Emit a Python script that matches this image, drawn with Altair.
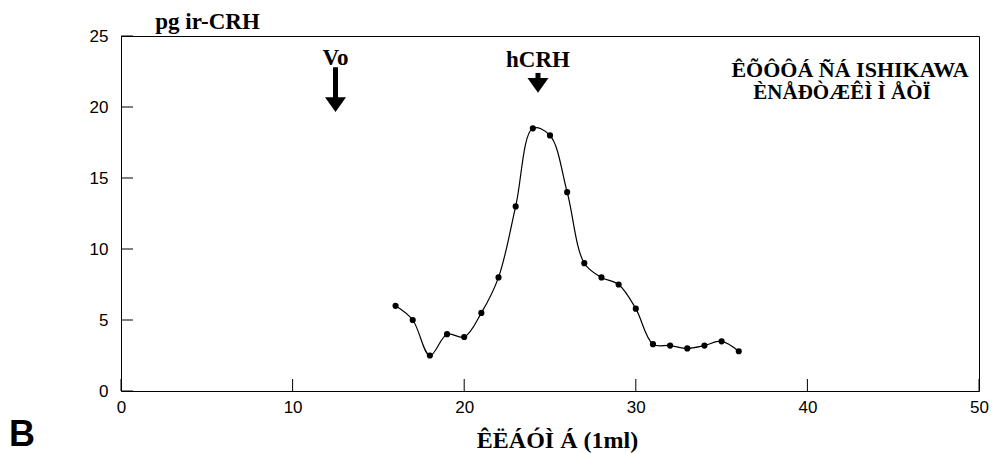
import altair as alt
import pandas as pd

# ---- data ----
fraction = [16, 17, 18, 19, 20, 21, 22, 23, 24, 25, 26, 27, 28, 29, 30, 31, 32, 33, 34, 35, 36]
ir_crh = [6.0, 5.0, 2.5, 4.0, 3.8, 5.5, 8.0, 13.0, 18.5, 18.0, 14.0, 9.0, 8.0, 7.5, 5.8, 3.3, 3.2, 3.0, 3.2, 3.5, 2.8]

marker_labels = ["Vo", "hCRH"]
marker_x = [12.5, 24.3]
marker_top = [22.8, 22.4]
marker_tip = [19.65, 21.0]
marker_label_y = [22.95, 22.85]

x_ticks = [0, 10, 20, 30, 40, 50]
y_ticks = [0, 5, 10, 15, 20, 25]

x_title = "ÊËÁÓÌ  Á  (1ml)"
y_title = "pg ir-CRH"
panel_label = ["B"]
note_line1 = ["ÊÕÔÔÁ ÑÁ ISHIKAWA"]
note_line2 = ["ÈNÅÐÒÆÊÌ  Ì  ÅÒÏ"]

W, H = 858, 355
SERIF = "Liberation Serif"
SANS = "Liberation Sans"

xs = alt.Scale(domain=[0, 50], nice=False, zero=False)
ys = alt.Scale(domain=[0, 25], nice=False, zero=False)

df = pd.DataFrame({"fraction": fraction, "crh": ir_crh})

x_axis = alt.Axis(
    values=x_ticks, ticks=False, domain=False, grid=False, labelFlush=False,
    labelFont=SANS, labelFontSize=17, labelColor="black", labelPadding=8,
    title=x_title, titleFont=SERIF, titleFontSize=24, titleFontWeight="bold",
    titleColor="black", titleX=436, titleY=56, titleBaseline="alphabetic",
    titleAlign="center",
)
y_axis = alt.Axis(
    values=y_ticks, ticks=False, domain=False, grid=False, labelFlush=False,
    labelFont=SANS, labelFontSize=17, labelColor="black", labelPadding=13,
    title=y_title, titleAngle=0, titleFont=SERIF, titleFontSize=23,
    titleFontWeight="bold", titleColor="black", titleX=86, titleY=-8,
    titleBaseline="alphabetic", titleAlign="center",
)


def X(field):
    return alt.X(field, scale=xs, axis=x_axis)


def Y(field):
    return alt.Y(field, scale=ys, axis=y_axis)


line = alt.Chart(df).mark_line(
    color="black", strokeWidth=1.2, interpolate="catmull-rom"
).encode(x=X("fraction:Q"), y=Y("crh:Q"))

points = alt.Chart(df).mark_point(
    filled=True, color="black", opacity=1, size=38, shape="circle"
).encode(x=X("fraction:Q"), y=Y("crh:Q"))

ytick_df = pd.DataFrame({"v": y_ticks})
xtick_df = pd.DataFrame({"v": x_ticks})

yticks = alt.Chart(ytick_df).mark_rule(color="black", strokeWidth=1).encode(
    y=Y("v:Q"), x=alt.value(0), x2=alt.value(12),
)
xticks = alt.Chart(xtick_df).mark_rule(color="black", strokeWidth=1).encode(
    x=X("v:Q"), y=alt.value(H), y2=alt.value(H - 12),
)

mk = pd.DataFrame({
    "label": marker_labels, "x": marker_x, "top": marker_top,
    "tip": marker_tip, "ly": marker_label_y,
})

shafts = alt.Chart(mk).mark_rule(
    color="black", strokeWidth=5, strokeCap="butt", y2Offset=-8
).encode(x=X("x:Q"), y=Y("top:Q"), y2="tip:Q")

heads = alt.Chart(mk).mark_point(
    shape="M-1,-1.4L1,-1.4L0,0Z", filled=True, color="black", opacity=1,
    size=441, strokeWidth=0,
).encode(x=X("x:Q"), y=Y("tip:Q"))

mlabels = alt.Chart(mk).mark_text(
    font=SERIF, fontWeight="bold", fontSize=23, color="black",
    align="center", baseline="alphabetic",
).encode(x=X("x:Q"), y=Y("ly:Q"), text="label:N")

b_text = alt.Chart(pd.DataFrame({"t": panel_label})).mark_text(
    font=SANS, fontWeight="bold", fontSize=36, color="black",
    align="center", baseline="alphabetic",
).encode(x=alt.value(-99), y=alt.value(410), text="t:N")

note1 = alt.Chart(pd.DataFrame({"t": note_line1})).mark_text(
    font=SERIF, fontWeight="bold", fontSize=22, color="black",
    align="center", baseline="alphabetic",
).encode(x=alt.value(729), y=alt.value(41), text="t:N")

note2 = alt.Chart(pd.DataFrame({"t": note_line2})).mark_text(
    font=SERIF, fontWeight="bold", fontSize=21, color="black",
    align="center", baseline="alphabetic",
).encode(x=alt.value(721), y=alt.value(63), text="t:N")

chart = alt.layer(
    line, points, yticks, xticks, shafts, heads, mlabels, b_text, note1, note2
).properties(
    width=W, height=H,
    autosize=alt.AutoSizeParams(type="none"),
    padding={"left": 121, "top": 36, "right": 16, "bottom": 62},
    background="white",
).configure_view(stroke="black", strokeWidth=1)

chart.save("out.html", embed_options={"renderer": "svg", "actions": False})
